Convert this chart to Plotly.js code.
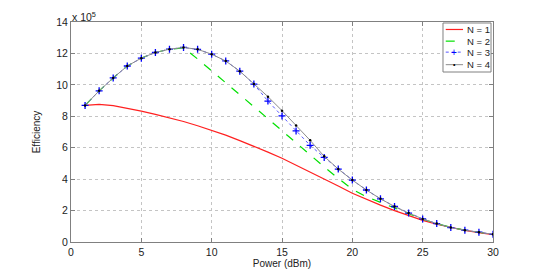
<!DOCTYPE html>
<html>
<head>
<meta charset="utf-8">
<script src="https://cdn.plot.ly/plotly-3.0.1.min.js"></script>
<style>html,body{margin:0;padding:0;background:#fff;}#chart{width:545px;height:273px;}</style>
</head>
<body>
<div id="chart"></div>
<script>
// Power (dBm)
const power = [1,2,3,4,5,6,7,8,9,10,11,12,13,14,15,16,17,18,19,20,21,22,23,24,25,26,27,28,29,30];
// Efficiency, in units of 1e5 (axis shows "x 10^5")
const effN1 = [8.70,8.76,8.68,8.52,8.33,8.12,7.90,7.67,7.40,7.12,6.80,6.45,6.10,5.72,5.33,4.90,4.46,4.02,3.56,3.10,2.70,2.35,2.00,1.68,1.38,1.13,0.92,0.74,0.60,0.47];
const effN2 = [8.69,9.62,10.44,11.20,11.70,12.06,12.27,12.35,11.65,10.90,10.15,9.40,8.62,7.85,7.08,6.30,5.52,4.78,4.05,3.35,2.88,2.52,2.17,1.80,1.45,1.17,0.93,0.76,0.62,0.49];
const effN3 = [8.69,9.62,10.44,11.20,11.70,12.06,12.27,12.38,12.26,11.95,11.52,10.87,10.05,8.97,8.02,7.07,6.15,5.38,4.64,3.94,3.31,2.75,2.26,1.84,1.47,1.17,0.92,0.75,0.62,0.49];
const effN4 = [8.69,9.62,10.44,11.20,11.70,12.06,12.27,12.38,12.26,11.95,11.52,10.87,10.06,9.25,8.36,7.41,6.47,5.45,4.64,3.94,3.31,2.75,2.26,1.84,1.47,1.17,0.92,0.75,0.62,0.49];
const names = ['N = 1','N = 2','N = 3','N = 4'];
const xTicks = [0,5,10,15,20,25,30];
const yTicks = [0,2,4,6,8,10,12,14];

const FONT = 'Liberation Sans, Arial, Helvetica, sans-serif';
const styles = [
  {line: {color: '#ff2020', width: 1.2}, mode: 'lines'},
  {line: {color: '#00e000', width: 1.2, dash: 'dash'}, mode: 'lines'},
  {line: {color: '#5555ff', width: 1, dash: 'dot'}, mode: 'lines+markers',
   marker: {symbol: 'cross-thin-open', size: 5, color: '#0000ff', line: {color: '#0000ff', width: 1.3}}},
  {line: {color: '#8c8c8c', width: 1}, mode: 'lines+markers',
   marker: {symbol: 'circle', size: 2.5, color: '#000000'}}
];
const series = [effN1, effN2, effN3, effN4];
const traces = series.map((ys, i) => Object.assign({x: power, y: ys, name: names[i], showlegend: false}, styles[i]));

const axisCommon = {
  showline: true, linecolor: '#808080', linewidth: 1, mirror: 'ticks',
  ticks: 'inside', ticklen: 4, tickcolor: '#808080',
  showgrid: true, gridcolor: '#c4c4c4', griddash: 'dot', gridwidth: 1,
  zeroline: false,
  tickfont: {family: FONT, size: 10.5, color: '#222'}
};

// Manual MATLAB-style legend box (paper coordinates)
const L = {x0: 0.8815, x1: 0.9953, y0: 0.7727, y1: 0.9955, lineX0: 0.888, lineX1: 0.929, textX: 0.934};
const rowY = [0.966, 0.913, 0.863, 0.806];
const shapes = [{type: 'rect', xref: 'paper', yref: 'paper', x0: L.x0, x1: L.x1, y0: L.y0, y1: L.y1,
  line: {color: '#808080', width: 1}, fillcolor: '#ffffff', layer: 'above'}];
const annotations = [{
  xref: 'paper', yref: 'paper', x: 0, y: 1, xanchor: 'left', yanchor: 'bottom',
  text: 'x 10<sup>5</sup>', showarrow: false, xshift: -1, yshift: -3,
  font: {family: FONT, size: 10.5, color: '#222'}
}];
names.forEach((nm, i) => {
  const st = styles[i];
  shapes.push({type: 'line', xref: 'paper', yref: 'paper', x0: L.lineX0, x1: L.lineX1, y0: rowY[i], y1: rowY[i],
    line: {color: st.line.color, width: st.line.width, dash: st.line.dash || 'solid'}, layer: 'above'});
  annotations.push({xref: 'paper', yref: 'paper', x: L.textX, y: rowY[i], xanchor: 'left', yanchor: 'middle',
    text: nm, showarrow: false, font: {family: FONT, size: 9.5, color: '#222'}});
  if (i === 2) {
    annotations.push({xref: 'paper', yref: 'paper', x: (L.lineX0 + L.lineX1) / 2, y: rowY[i], xanchor: 'center', yanchor: 'middle',
      text: '+', showarrow: false, font: {family: FONT, size: 10, color: '#0000ff'}});
  }
  if (i === 3) {
    annotations.push({xref: 'paper', yref: 'paper', x: (L.lineX0 + L.lineX1) / 2, y: rowY[i], xanchor: 'center', yanchor: 'middle',
      text: '•', showarrow: false, font: {family: FONT, size: 7, color: '#000000'}});
  }
});

const layout = {
  width: 545, height: 273,
  margin: {l: 71, r: 52, t: 22, b: 31},
  paper_bgcolor: '#ffffff', plot_bgcolor: '#ffffff',
  showlegend: false,
  xaxis: Object.assign({}, axisCommon, {
    range: [0, 30], tickvals: xTicks,
    title: {text: 'Power (dBm)', standoff: 0, font: {family: FONT, size: 10, color: '#222'}}
  }),
  yaxis: Object.assign({}, axisCommon, {
    range: [0, 14], tickvals: yTicks,
    title: {text: 'Efficiency', standoff: 13, font: {family: FONT, size: 10, color: '#222'}}
  }),
  shapes: shapes,
  annotations: annotations
};

Plotly.newPlot('chart', traces, layout, {displayModeBar: false, staticPlot: true});
</script>
</body>
</html>
